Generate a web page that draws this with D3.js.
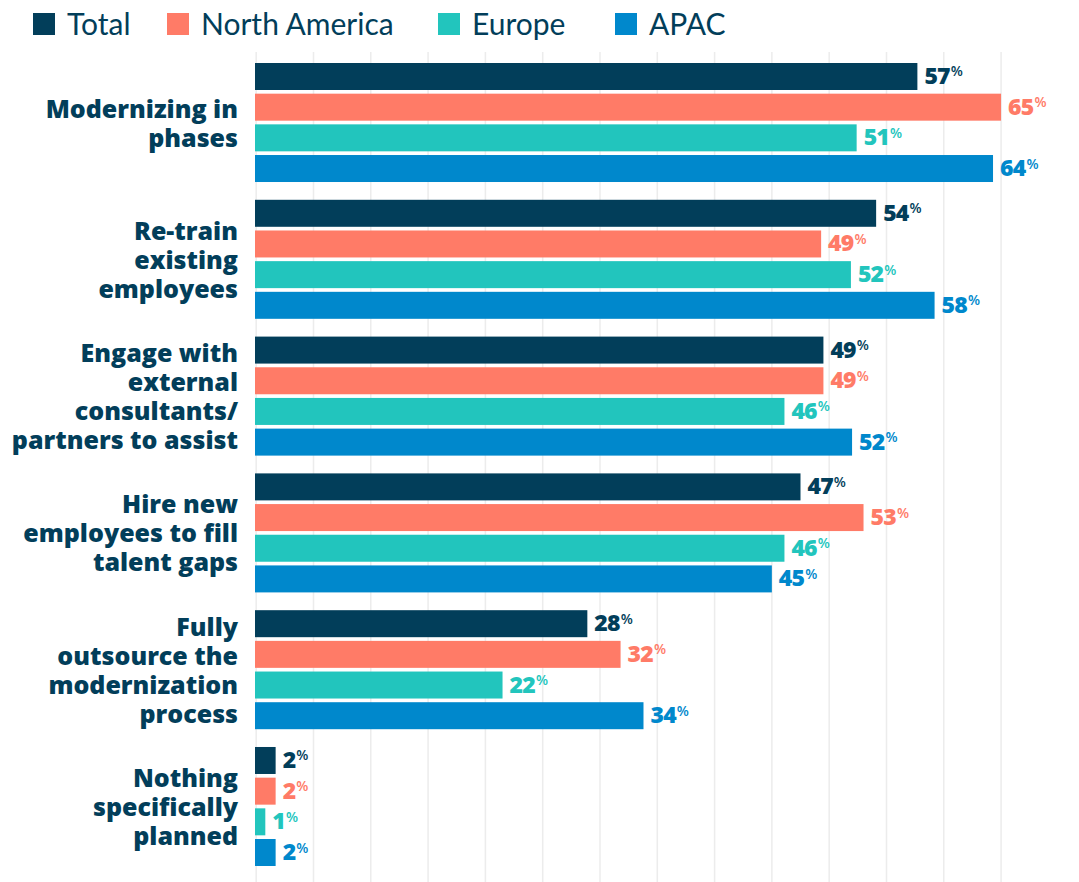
<!DOCTYPE html>
<html><head><meta charset="utf-8">
<script src="https://cdn.jsdelivr.net/npm/d3@7"></script>
<style>body{margin:0;background:#fff;}</style>
</head><body>
<svg id="c" width="1079" height="882"></svg>
<script>
const categories = [
  ["Modernizing in","phases"],
  ["Re-train","existing","employees"],
  ["Engage with","external","consultants/","partners to assist"],
  ["Hire new","employees to fill","talent gaps"],
  ["Fully","outsource the","modernization","process"],
  ["Nothing","specifically","planned"]
];
const seriesNames = ["Total","North America","Europe","APAC"];
const colors = ["#023e5a","#ff7b67","#22c5bd","#0088cc"];
// bar lengths as drawn in the picture
const total = [57.8,54.2,49.6,47.6,29.0,1.8];
const northAmerica = [65.1,49.4,49.6,53.1,31.9,1.8];
const europe = [52.5,52.0,46.2,46.2,21.6,0.9];
const apac = [64.4,59.3,52.1,45.1,33.9,1.8];
// printed labels
const totalLabels = [57,54,49,47,28,2];
const northAmericaLabels = [65,49,49,53,32,2];
const europeLabels = [51,52,46,46,22,1];
const apacLabels = [64,58,52,45,34,2];
const gridTicks = [0,5,10,15,20,25,30,35,40,45,50,55,60,65];

const values = [total,northAmerica,europe,apac];
const labels = [totalLabels,northAmericaLabels,europeLabels,apacLabels];

const svg = d3.select("#c");
const x = d3.scaleLinear().domain([0,65]).range([255,255+65*11.46]);
const y0 = d3.scaleBand().domain(d3.range(categories.length)).range([63,866]).paddingInner(0.13).paddingOuter(0);
const y1 = d3.scaleBand().domain(d3.range(4)).range([0,y0.bandwidth()]).paddingInner(0.12);

const LF = "'Open Sans',Lato,sans-serif";

// grid
svg.append("g").selectAll("line").data(gridTicks).join("line")
  .attr("x1",d=>x(d)+1.2).attr("x2",d=>x(d)+1.2).attr("y1",52).attr("y2",882)
  .attr("stroke","#ececec").attr("stroke-width",1.5);

// bars
const g = svg.append("g");
categories.forEach((c,i)=>{
  values.forEach((s,j)=>{
    const yy = y0(i)+y1(j);
    g.append("rect").attr("x",x(0)).attr("y",yy).attr("width",x(s[i])-x(0)).attr("height",y1.bandwidth()).attr("fill",colors[j]);
    const t = g.append("text").attr("x",x(s[i])+7).attr("y",yy+y1.bandwidth()/2+7.5)
      .attr("fill",colors[j]).attr("font-family",LF).attr("font-weight",800).attr("font-size",23).attr("letter-spacing",-0.8);
    t.append("tspan").text(labels[j][i]);
    t.append("tspan").attr("font-size",14).attr("dx",1).attr("dy",-7.5).attr("font-weight",600).attr("letter-spacing",0).text("%");
  });
  const cy = y0(i)+y0.bandwidth()/2;
  const lh = 29;
  const txt = svg.append("text").attr("text-anchor","end").attr("fill","#023e5a")
    .attr("font-family",LF).attr("font-weight",800).attr("font-size",25);
  c.forEach((l,k)=>{
    txt.append("tspan").attr("x",238).attr("y",cy+(k-(c.length-1)/2)*lh+9.5).text(l);
  });
});

// legend
const legX = [33,167,438,615];
const lg = svg.append("g");
seriesNames.forEach((n,i)=>{
  lg.append("rect").attr("x",legX[i]).attr("y",13).attr("width",22).attr("height",22).attr("fill",colors[i]);
  lg.append("text").attr("x",legX[i]+34).attr("y",35).attr("fill","#023e5a")
    .attr("font-family","Lato,sans-serif").attr("font-size",30).text(n);
});
</script>
</body></html>
